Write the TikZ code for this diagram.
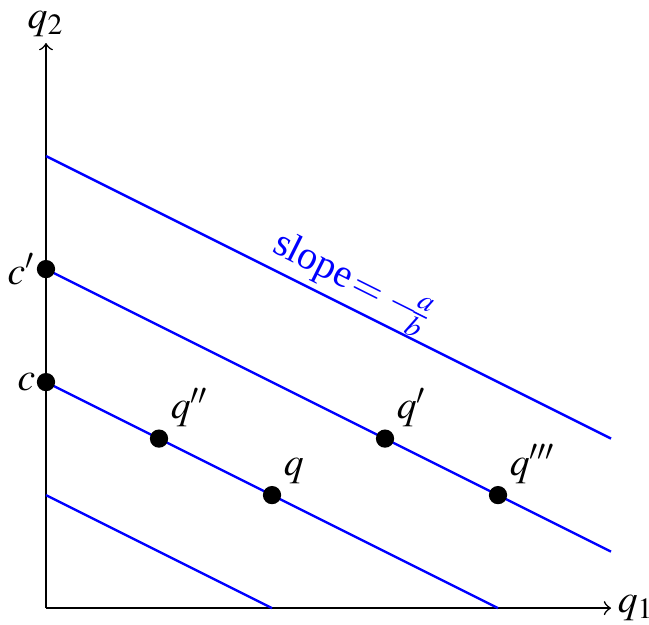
\documentclass[tikz,border=0pt]{standalone}
\usepackage{amsmath}
\usepackage{mathptmx}
\usepackage{fontspec}
\setmainfont{Liberation Serif}
\usepackage{tikz}

\tikzset{
  budget/.style={blue, semithick},
  bundle/.style={circle, fill=black, inner sep=0pt, minimum size=4.6pt},
}

\begin{document}
\begin{tikzpicture}
		\useasboundingbox (-0.407,-0.142) rectangle (5.336,5.381);
		% axes
		\coordinate (O) at (0,0);
		\coordinate (X) at (5,0);
		\coordinate (Y) at (0,5);
		\draw [->] (O) -- (X) node [right, inner sep=1.5pt] {$q_1$};
		\draw [->] (O) -- (Y) node [above, inner sep=1.5pt] {$q_2$};
		% lines
		\coordinate (a1) at (0,1);
		\coordinate (b1) at (2,0);
		\coordinate (a2) at (0,2);
		\coordinate (b2) at (4,0);
		\coordinate (a3) at (0,3);
		\coordinate (b3) at (5,0.5);
		\coordinate (a4) at (0,4);
		\coordinate (b4) at (5,1.5);
		\draw [budget] (a1) -- (b1);
		\draw [budget] (a2) -- (b2);
		\draw [budget] (a3) -- (b3);
		\draw [budget] (a4) -- node [sloped, above, pos=0.52, inner sep=0pt]
			{\nulldelimiterspace=0pt slope$\,=-\!\frac{a}{b}$} (b4);
		% points
		\node [bundle, label={[inner sep=0pt]left:$c$}] (c) at (a2) {};
		\node [bundle, label={[inner sep=0pt]left:$c'$}] (c') at (a3) {};
		\node [bundle, label={[inner sep=1pt]above right:$q''$}] (q'') at (1,1.5) {};
		\node [bundle, label={[inner sep=1pt]above right:$q$}] (q) at (2,1) {};
		\node [bundle, label={[inner sep=1pt]above right:$q'$}] (q') at (3,1.5) {};
		\node [bundle, label={[inner sep=1pt]above right:$q'''$}] (q''') at (4,1) {};
	\end{tikzpicture}
\end{document}
